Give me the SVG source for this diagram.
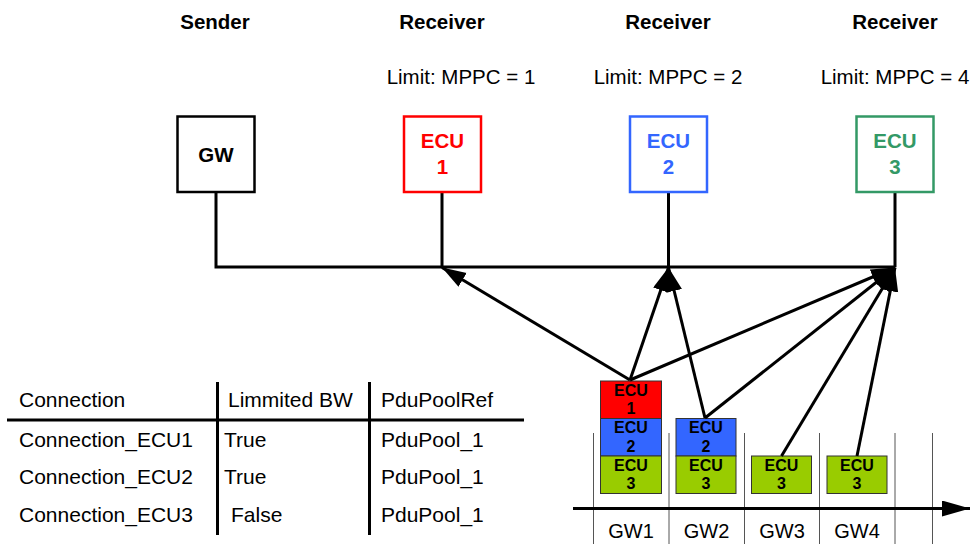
<svg xmlns="http://www.w3.org/2000/svg" width="973" height="544" viewBox="0 0 973 544">
<defs>
<style>
text{font-family:"Liberation Sans",Arial,sans-serif;fill:#000}
.hd{font-size:20.5px;font-weight:bold;text-anchor:middle}
.lim{font-size:20.5px;text-anchor:middle}
.box{fill:#fff;stroke-width:2.5}
.bt{font-size:20.5px;font-weight:bold;text-anchor:middle}
.bus{fill:none;stroke:#000;stroke-width:3}
.conn{fill:none;stroke:#000;stroke-width:3;marker-end:url(#ah)}
.blk{stroke:#333;stroke-width:1}
.bk{font-size:16px;font-weight:bold;text-anchor:middle}
.tb{font-size:21px}
.tl{stroke:#000;stroke-width:3}
.sep{stroke:#555;stroke-width:1}
.gw{font-size:20px;text-anchor:middle}
</style>
<marker id="ah" markerUnits="userSpaceOnUse" markerWidth="30" markerHeight="20" refX="24" refY="8" orient="auto" viewBox="0 0 30 20">
<path d="M0,0 L24,8 L0,16 z" fill="#000"/>
</marker>
<marker id="ax" markerUnits="userSpaceOnUse" markerWidth="32" markerHeight="20" refX="28" refY="8" orient="auto" viewBox="0 0 32 20">
<path d="M0,0 L28,8 L0,16 z" fill="#000"/>
</marker>
</defs>
<rect width="973" height="544" fill="#fff"/>

<text class="hd" x="215" y="29">Sender</text>
<text class="hd" x="442" y="29">Receiver</text>
<text class="hd" x="668" y="29">Receiver</text>
<text class="hd" x="895" y="29">Receiver</text>
<text class="lim" x="461" y="84">Limit: MPPC = 1</text>
<text class="lim" x="668" y="84">Limit: MPPC = 2</text>
<text class="lim" x="895" y="84">Limit: MPPC = 4</text>

<g id="bus">
<path class="bus" d="M216,192 V267 H895 M442,192 V267 M668.5,192 V267 M895,192 V267"/>
</g>

<g id="gw">
<rect class="box" x="177.5" y="116.5" width="77" height="75.5" stroke="#000"/>
<text class="bt" x="216" y="162">GW</text>
</g>
<g id="ecu1">
<rect class="box" x="404" y="116.5" width="77" height="75.5" stroke="#FF0000"/>
<text class="bt" x="442.5" y="148" style="fill:#FF0000">ECU</text>
<text class="bt" x="442.5" y="174" style="fill:#FF0000">1</text>
</g>
<g id="ecu2">
<rect class="box" x="630" y="116.5" width="77" height="75.5" stroke="#3366FF"/>
<text class="bt" x="668.5" y="148" style="fill:#3366FF">ECU</text>
<text class="bt" x="668.5" y="174" style="fill:#3366FF">2</text>
</g>
<g id="ecu3">
<rect class="box" x="856.5" y="116.5" width="77" height="75.5" stroke="#339966"/>
<text class="bt" x="895" y="148" style="fill:#339966">ECU</text>
<text class="bt" x="895" y="174" style="fill:#339966">3</text>
</g>

<g id="timeline">
<path class="sep" d="M593.5,433 V544 M669,433 V544 M744.5,433 V544 M819.5,433 V544 M895,433 V544 M932.5,433 V544"/>
<line x1="573" y1="508.5" x2="970" y2="508.5" stroke="#000" stroke-width="3" marker-end="url(#ax)"/>
<text class="gw" x="631" y="538">GW1</text>
<text class="gw" x="706.5" y="538">GW2</text>
<text class="gw" x="782" y="538">GW3</text>
<text class="gw" x="857" y="538">GW4</text>
</g>

<g id="slot-gw1">
<rect class="blk" x="600.5" y="381" width="61" height="37.5" fill="#FF0000"/>
<text class="bk" x="631" y="395.5">ECU</text>
<text class="bk" x="631" y="414">1</text>
<rect class="blk" x="600.5" y="418.5" width="61" height="37.5" fill="#3366FF"/>
<text class="bk" x="631" y="433">ECU</text>
<text class="bk" x="631" y="451.5">2</text>
<rect class="blk" x="600.5" y="456" width="61" height="37.5" fill="#99CC00"/>
<text class="bk" x="631" y="470.5">ECU</text>
<text class="bk" x="631" y="489">3</text>
</g>
<g id="slot-gw2">
<rect class="blk" x="676" y="418.5" width="60" height="37.5" fill="#3366FF"/>
<text class="bk" x="706" y="433">ECU</text>
<text class="bk" x="706" y="451.5">2</text>
<rect class="blk" x="676" y="456" width="60" height="37.5" fill="#99CC00"/>
<text class="bk" x="706" y="470.5">ECU</text>
<text class="bk" x="706" y="489">3</text>
</g>
<g id="slot-gw3">
<rect class="blk" x="751.5" y="456" width="60" height="37.5" fill="#99CC00"/>
<text class="bk" x="781.5" y="470.5">ECU</text>
<text class="bk" x="781.5" y="489">3</text>
</g>
<g id="slot-gw4">
<rect class="blk" x="827" y="456" width="60" height="37.5" fill="#99CC00"/>
<text class="bk" x="857" y="470.5">ECU</text>
<text class="bk" x="857" y="489">3</text>
</g>

<g id="connectors">
<line class="conn" x1="630" y1="380" x2="442" y2="267.5"/>
<line class="conn" x1="630" y1="380" x2="668.5" y2="267.5"/>
<line class="conn" x1="630" y1="380" x2="895" y2="267.5"/>
<line class="conn" x1="705" y1="418" x2="668.5" y2="267.5"/>
<line class="conn" x1="705" y1="418" x2="895" y2="267.5"/>
<line class="conn" x1="781.5" y1="456" x2="895" y2="267.5"/>
<line class="conn" x1="857" y1="456" x2="895" y2="267.5"/>
</g>

<g id="table">
<line class="tl" x1="7" y1="420" x2="524" y2="420"/>
<line class="tl" x1="217.5" y1="382" x2="217.5" y2="535"/>
<line class="tl" x1="369.5" y1="382" x2="369.5" y2="535"/>
<text class="tb" x="19" y="407">Connection</text>
<text class="tb" x="228" y="407">Limmited BW</text>
<text class="tb" x="381" y="407">PduPoolRef</text>
<text class="tb" x="19" y="447">Connection_ECU1</text>
<text class="tb" x="224" y="447">True</text>
<text class="tb" x="381" y="447">PduPool_1</text>
<text class="tb" x="19" y="484">Connection_ECU2</text>
<text class="tb" x="224" y="484">True</text>
<text class="tb" x="381" y="484">PduPool_1</text>
<text class="tb" x="19" y="522">Connection_ECU3</text>
<text class="tb" x="231" y="522">False</text>
<text class="tb" x="381" y="522">PduPool_1</text>
</g>
</svg>
